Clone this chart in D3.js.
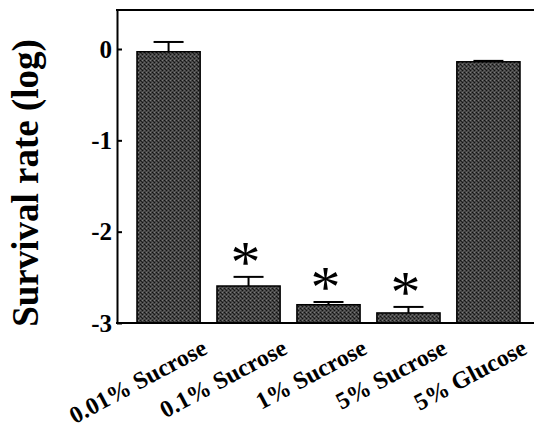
<!DOCTYPE html>
<html><head><meta charset="utf-8">
<script src="https://cdn.jsdelivr.net/npm/d3@7"></script>
<style>body{margin:0;background:#fff}svg{display:block}</style>
</head><body>
<script>
const categories = ["0.01% Sucrose","0.1% Sucrose","1% Sucrose","5% Sucrose","5% Glucose"];
const values = [-0.03, -2.595, -2.80, -2.89, -0.14];
const errors = [0.107, 0.10, 0.03, 0.066, 0.01];
const significant = [false, true, true, true, false];
const yTicks = [0, -1, -2, -3];

const W = 534, H = 426;
const svg = d3.select("body").append("svg").attr("width", W).attr("height", H);
const font = "'Liberation Serif','Times New Roman',serif";

const x = d3.scaleBand().domain(categories).range([117, 540]).paddingInner(0.21).paddingOuter(0.25);
const y = d3.scaleLinear().domain([-3, 0.427]).range([323, 10]);

const defs = svg.append("defs");
const pat = defs.append("pattern").attr("id","dither").attr("width",4).attr("height",4).attr("patternUnits","userSpaceOnUse");
pat.append("rect").attr("width",4).attr("height",4).attr("fill","#444");
pat.append("rect").attr("width",1).attr("height",1).attr("fill","#111");
pat.append("rect").attr("x",2).attr("y",2).attr("width",1).attr("height",1).attr("fill","#111");
pat.append("rect").attr("x",2).attr("y",0).attr("width",1).attr("height",1).attr("fill","#7a7a7a");
pat.append("rect").attr("x",0).attr("y",2).attr("width",1).attr("height",1).attr("fill","#666");
pat.append("rect").attr("x",1).attr("y",1).attr("width",1).attr("height",1).attr("fill","#222");
pat.append("rect").attr("x",3).attr("y",3).attr("width",1).attr("height",1).attr("fill","#555");

const base = y(-3);
// bars
svg.selectAll("rect.bar").data(categories).join("rect").attr("class","bar")
  .attr("x", d => x(d)).attr("width", x.bandwidth())
  .attr("y", (d,i) => y(values[i])).attr("height", (d,i) => base - y(values[i]))
  .attr("fill","url(#dither)").attr("stroke","#000").attr("stroke-width",1.5);

// error bars
const capW = 30;
categories.forEach((c,i) => {
  const cx = x(c) + x.bandwidth()/2;
  const g = svg.append("g").attr("stroke","#000").attr("stroke-width",2);
  g.append("line").attr("x1",cx).attr("x2",cx).attr("y1",y(values[i])).attr("y2",y(values[i]+errors[i]));
  g.append("line").attr("x1",cx-capW/2).attr("x2",cx+capW/2).attr("y1",y(values[i]+errors[i])).attr("y2",y(values[i]+errors[i]));
  if (significant[i]) {
    svg.append("text").attr("x",cx-3).attr("y",y(values[i]+errors[i]) + 5)
      .attr("text-anchor","middle").attr("font-family",font).attr("font-size",60)
      .attr("fill","#000").text("*");
  }
});

// axes frame
const yAxis = d3.axisLeft(y).tickValues(yTicks).tickFormat(d => String(d)).tickSizeInner(-5).tickSizeOuter(0).tickPadding(5);
const ga = svg.append("g").attr("transform","translate(117,0)").call(yAxis);
ga.select(".domain").attr("stroke","#000").attr("stroke-width",2);
ga.selectAll(".tick line").attr("stroke","#000").attr("stroke-width",2);
ga.selectAll(".tick text").attr("font-family",font).attr("font-weight","bold").attr("font-size",25).attr("fill","#000").attr("dy","0.33em");

svg.append("line").attr("x1",116).attr("x2",W).attr("y1",10).attr("y2",10).attr("stroke","#000").attr("stroke-width",2);
svg.append("line").attr("x1",116).attr("x2",W).attr("y1",base).attr("y2",base).attr("stroke","#000").attr("stroke-width",2);

// x labels
svg.selectAll("text.xl").data(categories).join("text").attr("class","xl")
  .attr("transform", d => `translate(${x(d)+x.bandwidth()/2+40},353) rotate(-28)`)
  .attr("text-anchor","end").attr("font-family",font).attr("font-weight","bold").attr("font-size",24)
  .attr("fill","#000").text(d => d);

// y label
svg.append("text").attr("transform","translate(38,183) rotate(-90)")
  .attr("text-anchor","middle").attr("font-family",font).attr("font-weight","bold").attr("font-size",37)
  .attr("fill","#000").text("Survival rate (log)");
</script>
</body></html>
